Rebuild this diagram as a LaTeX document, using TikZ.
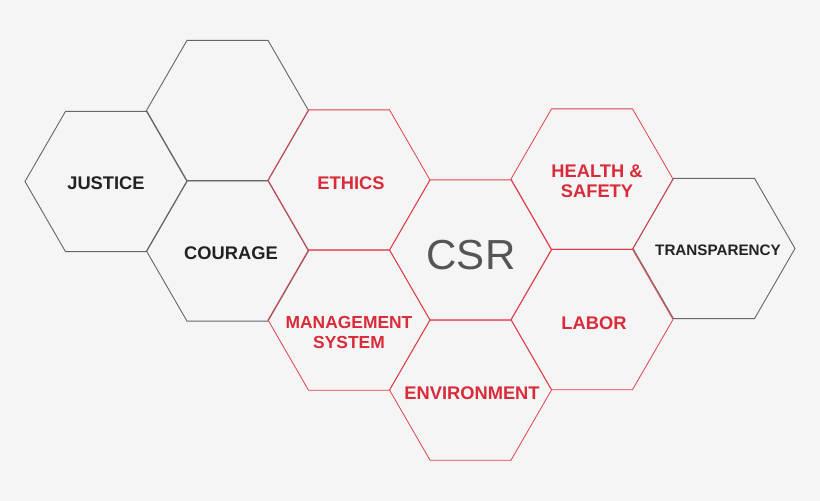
\documentclass[tikz,border=0pt]{standalone}
\usepackage{fontspec}
\setmainfont{Liberation Sans}
\definecolor{bg}{HTML}{F5F5F5}
\definecolor{hexred}{HTML}{E0404C}
\definecolor{txtred}{HTML}{D92B3A}
\definecolor{hexgray}{HTML}{666666}
\definecolor{txtdark}{HTML}{222222}
\definecolor{csrgray}{HTML}{555555}
\newcommand\hexpath[2]{(#1-81,#2) -- ++(40.5,-70.15) -- ++(81,0) -- ++(40.5,70.15) -- ++(-40.5,70.15) -- ++(-81,0) -- cycle}
\begin{document}
\begin{tikzpicture}[x=1pt,y=-1pt,
  grayhex/.style={draw=hexgray,line width=0.9pt,line join=miter},
  redhex/.style={draw=hexred,line width=0.8pt,line join=miter},
  lab/.style={font=\bfseries\fontsize{18.3}{20}\selectfont,align=center,inner sep=0pt},
  darklab/.style={lab,text=txtdark},
  redlab/.style={lab,text=txtred}]
\fill[bg] (0,0) rectangle (820,501);
\useasboundingbox (0,0) rectangle (820,501);
% gray hexagons
\draw[grayhex] \hexpath{106}{181.5};
\draw[grayhex] \hexpath{227.5}{110.5};
\draw[grayhex] \hexpath{227.5}{251};
\draw[grayhex] \hexpath{714}{248.5};
% red hexagons
\draw[redhex] \hexpath{349}{180};
\draw[redhex] \hexpath{349}{320};
\draw[redhex] \hexpath{470.5}{250};
\draw[redhex] \hexpath{470.5}{390};
\draw[redhex] \hexpath{592}{179};
\draw[redhex] \hexpath{592}{319.5};
% labels
\node[darklab] (justice) at (106,183) {JUSTICE};
\node[darklab] (courage) at (231,253) {COURAGE};
\node[redlab] (ethics) at (351,183) {ETHICS};
\node[redlab,font=\bfseries\fontsize{17.4}{20}\selectfont] (mgmt) at (349,333) {MANAGEMENT\\SYSTEM};
\node[inner sep=0pt,font=\fontsize{42}{44}\selectfont,text=csrgray] (csr) at (471,255) {CSR};
\node[redlab] (env) at (472,393) {ENVIRONMENT};
\node[redlab] (health) at (597,181) {HEALTH \&\\SAFETY};
\node[redlab] (labor) at (594,323) {LABOR};
\node[darklab,font=\bfseries\fontsize{15.2}{18}\selectfont] (transp) at (718,250) {TRANSPARENCY};
\end{tikzpicture}
\end{document}
